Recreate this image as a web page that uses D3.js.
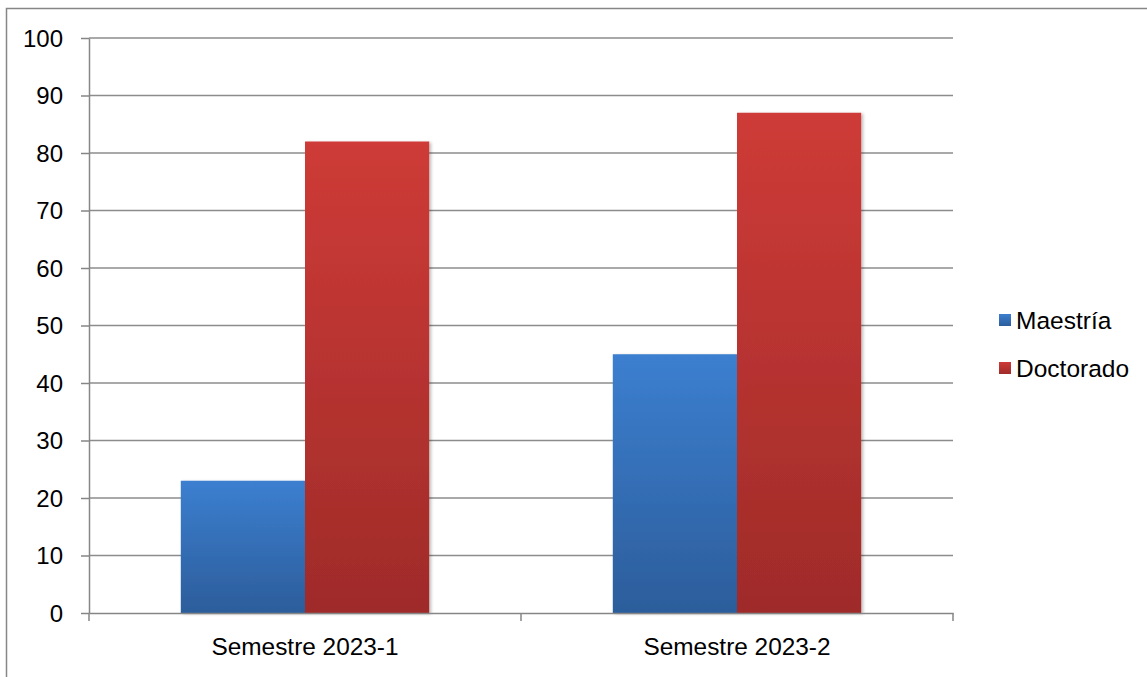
<!DOCTYPE html>
<meta charset="utf-8">
<style>
  body { margin: 0; background: #fff; }
  svg text { font-family: "Liberation Sans", Arial, sans-serif; fill: #000; }
  .axis .domain, .axis line { stroke: #868686; }
</style>
<svg width="1147" height="677"></svg>
<script src="https://cdnjs.cloudflare.com/ajax/libs/d3/7.8.5/d3.min.js"></script>
<script>
  // data
  var categories = ["Semestre 2023-1", "Semestre 2023-2"];
  var seriesNames = ["Maestría", "Doctorado"];
  var maestria = [23, 45];
  var doctorado = [82, 87];
  var yTicks = [0, 10, 20, 30, 40, 50, 60, 70, 80, 90, 100];

  var svg = d3.select("svg"),
      margin = {top: 38, right: 194, bottom: 64, left: 89},
      width = 1147 - margin.left - margin.right,
      height = 677 - margin.top - margin.bottom;

  // outer frame of the chart area
  svg.append("rect")
      .attr("x", 6.5).attr("y", 8.5)
      .attr("width", 1160).attr("height", 700)
      .attr("fill", "none")
      .attr("stroke", "#868686")
      .attr("stroke-width", 1.5);

  var defs = svg.append("defs");
  var grads = [["#3c7fd0", "#2c5d9b"], ["#ce3b37", "#9f2b29"]];
  grads.forEach(function(c, i) {
    var g = defs.append("linearGradient")
        .attr("id", "grad" + i)
        .attr("x1", 0).attr("y1", 0).attr("x2", 0).attr("y2", 1);
    g.append("stop").attr("offset", "0%").attr("stop-color", c[0]);
    g.append("stop").attr("offset", "100%").attr("stop-color", c[1]);
  });
  var shadow = defs.append("filter").attr("id", "shadow")
      .attr("x", "-10%").attr("y", "-10%").attr("width", "130%").attr("height", "130%");
  shadow.append("feDropShadow")
      .attr("dx", 2).attr("dy", 1).attr("stdDeviation", 1.5)
      .attr("flood-color", "#000").attr("flood-opacity", 0.25);

  var graph = svg.append("g").attr("transform", "translate(" + margin.left + "," + margin.top + ")");

  var x0 = d3.scaleBand().domain(categories).range([0, width]);
  var groupW = x0.step() * 0.575;
  var x1 = d3.scaleBand().domain(seriesNames).range([0, groupW]);
  var y = d3.scaleLinear().domain([0, 100]).range([height, 0]);

  // gridlines
  graph.append("g")
    .selectAll("line")
    .data(yTicks.slice(1))
    .enter().append("line")
      .attr("x1", 0).attr("x2", width)
      .attr("y1", function(d) { return y(d); })
      .attr("y2", function(d) { return y(d); })
      .attr("stroke", "#8c8c8c")
      .attr("stroke-width", 1.5);

  var rows = [];
  categories.forEach(function(c, i) {
    rows.push({cat: c, key: seriesNames[0], value: maestria[i], s: 0});
    rows.push({cat: c, key: seriesNames[1], value: doctorado[i], s: 1});
  });

  graph.append("g")
    .selectAll("rect")
    .data(rows)
    .enter().append("rect")
      .attr("x", function(d) { return x0(d.cat) + (x0.bandwidth() - groupW) / 2 + x1(d.key); })
      .attr("y", function(d) { return y(d.value); })
      .attr("width", x1.bandwidth())
      .attr("height", function(d) { return height - y(d.value); })
      .attr("fill", function(d) { return "url(#grad" + d.s + ")"; })
      .attr("filter", "url(#shadow)");

  // y axis
  var yAxis = graph.append("g")
      .attr("class", "axis")
      .call(d3.axisLeft(y).tickValues(yTicks).tickSize(8).tickPadding(18).tickSizeOuter(0));
  yAxis.selectAll("path, line").attr("stroke-width", 1.5);
  yAxis.selectAll("text").style("font-size", "24px").attr("dy", "0.35em");

  // x axis
  var xAxis = graph.append("g")
      .attr("class", "axis")
      .attr("transform", "translate(0," + height + ")")
      .call(d3.axisBottom(x0).tickSize(0).tickPadding(25).tickSizeOuter(0));
  xAxis.select(".domain").attr("stroke-width", 1.5);
  xAxis.selectAll("text").style("font-size", "24.4px");
  // category boundary ticks
  xAxis.append("g")
    .selectAll("line")
    .data(d3.range(categories.length + 1))
    .enter().append("line")
      .attr("x1", function(i) { return i * x0.step(); })
      .attr("x2", function(i) { return i * x0.step(); })
      .attr("y1", 0).attr("y2", 8)
      .attr("stroke", "#868686")
      .attr("stroke-width", 1.5);

  // legend
  var legend = svg.append("g")
    .selectAll("g")
    .data(seriesNames)
    .enter().append("g")
      .attr("transform", function(d, i) { return "translate(999," + (320 + i * 48) + ")"; });
  legend.append("rect")
      .attr("x", 0).attr("y", -6)
      .attr("width", 12).attr("height", 12)
      .attr("fill", function(d, i) { return "url(#grad" + i + ")"; });
  legend.append("text")
      .attr("x", 17).attr("dy", "0.35em")
      .style("font-size", "24.5px")
      .text(function(d) { return d; });
</script>
